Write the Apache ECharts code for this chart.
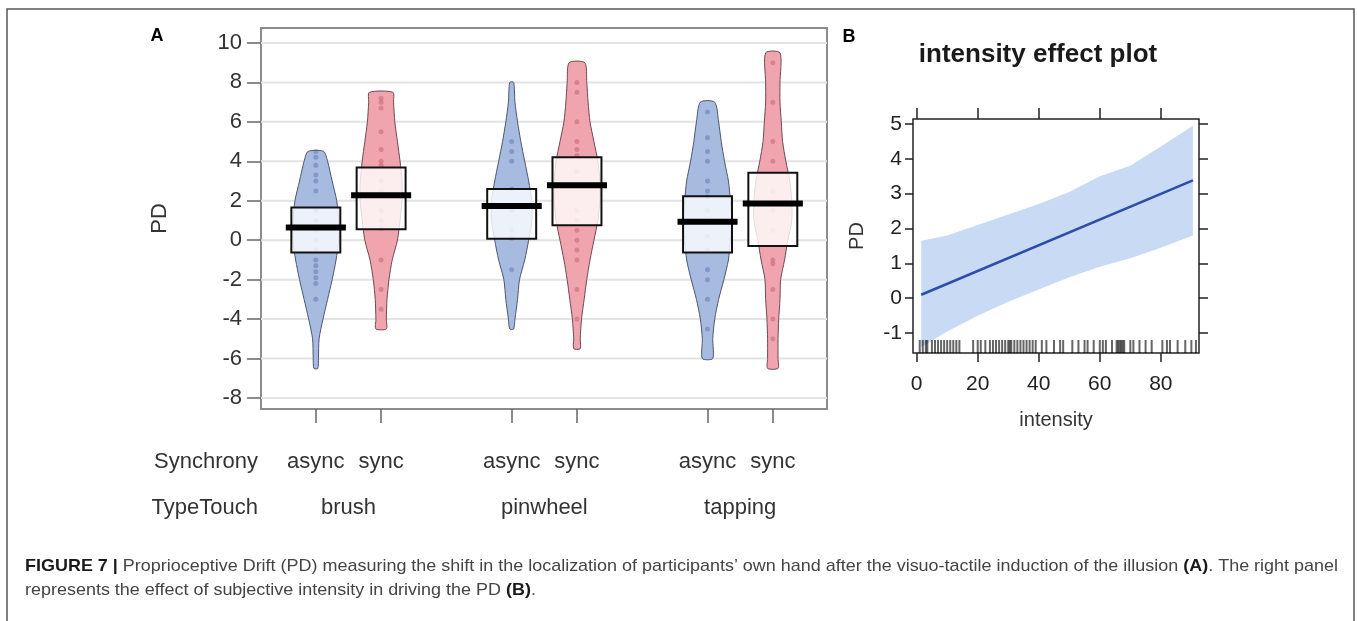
<!DOCTYPE html>
<html>
<head>
<meta charset="utf-8">
<script src="https://cdn.jsdelivr.net/npm/echarts@6/dist/echarts.min.js"></script>
<style>
  html, body { margin: 0; padding: 0; background: #fff; }
  #chart { width: 1357px; height: 621px; }
</style>
</head>
<body>
<div id="chart"></div>
<script>
// ---- panel A: pirate plot, PD by Synchrony x TypeTouch ----
const groupX = [1, 2, 4, 5, 7, 8];
const synchronyLabels = ['async', 'sync', 'async', 'sync', 'async', 'sync'];
const typeTouchLabels = ['brush', 'pinwheel', 'tapping'];
const typeTouchX = [1.5, 4.5, 7.5];
const pdTicksA = [-8, -6, -4, -2, 0, 2, 4, 6, 8, 10];

// box = inference band, bar = mean
const boxLow = [-0.62, 0.56, 0.07, 0.76, -0.62, -0.29];
const boxHigh = [1.66, 3.69, 2.59, 4.2, 2.23, 3.42];
const means = [0.64, 2.28, 1.73, 2.79, 0.93, 1.86];

// violin outline: PD levels (top -> bottom) and half width in x units
const violinLevels = [
  [4.5, 4, 3, 2, 1, 0, -1, -2, -3, -4, -5, -6, -6.5],
  [7.5, 7, 6, 5, 4, 3, 2, 1, 0, -1, -2, -3, -4, -4.5],
  [8, 7, 6, 5, 4, 3, 2, 1, 0, -1, -2, -3, -4, -4.5],
  [9, 8, 7, 6, 5, 4, 3, 2, 1, 0, -1, -2, -3, -4, -5, -5.5],
  [7, 6, 5, 4, 3, 2, 1, 0, -1, -2, -3, -4, -5, -6],
  [9.5, 8, 7, 6, 5, 4, 3, 2, 1, 0, -1, -2, -3, -4, -5, -6, -6.5]
];
const violinWidth = [
  [0.12, 0.18, 0.25, 0.32, 0.35, 0.35, 0.31, 0.25, 0.18, 0.11, 0.05, 0.04, 0.03],
  [0.18, 0.19, 0.21, 0.25, 0.29, 0.32, 0.32, 0.29, 0.25, 0.17, 0.12, 0.09, 0.08, 0.08],
  [0.03, 0.05, 0.09, 0.14, 0.2, 0.26, 0.31, 0.31, 0.26, 0.2, 0.12, 0.09, 0.05, 0.03],
  [0.12, 0.15, 0.17, 0.2, 0.26, 0.32, 0.35, 0.35, 0.32, 0.26, 0.2, 0.15, 0.11, 0.07, 0.05, 0.05],
  [0.11, 0.17, 0.21, 0.26, 0.32, 0.35, 0.37, 0.35, 0.32, 0.25, 0.17, 0.11, 0.08, 0.08],
  [0.11, 0.11, 0.11, 0.13, 0.15, 0.2, 0.26, 0.29, 0.29, 0.23, 0.18, 0.12, 0.11, 0.09, 0.08, 0.08, 0.08]
];

// raw observations (faint dots)
const rawPoints = [
  [4.5, 4.2, 3.8, 3.3, 3, 2.5, 1.5, 1, 0.5, 0, -0.5, -1, -1.3, -1.6, -1.9, -2.2, -3],
  [7.2, 7, 6.7, 5.5, 4.6, 4, 3.8, 3, 2.5, 1.5, 1, 0.6, -1, -2.5, -3.5],
  [5, 4.5, 4, 2.6, 1.5, 0.5, 0.1, -1.5],
  [8, 7.5, 6, 5, 4.6, 4.3, 3.5, 1.5, 1, 0.5, 0, -0.5, -1, -2.5, -4],
  [6.5, 5.2, 4.5, 4, 3, 2.5, 2.2, 1.5, 1, 0.2, -0.5, -1.5, -2, -3, -4.5],
  [9, 7, 5, 4, 2.5, 1.5, 0.5, -1, -1.2, -2.5, -4, -5]
];

// ---- panel B: intensity effect plot ----
const intensityTicks = [0, 20, 40, 60, 80];
const pdTicksB = [-1, 0, 1, 2, 3, 4, 5];
const fitX = [1.5, 90.5];
const fitY = [0.1, 3.38];
const bandX = [1.5, 10, 20, 30, 40, 50, 60, 70, 80, 90.5];
const bandUpper = [1.65, 1.8, 2.1, 2.4, 2.7, 3.05, 3.5, 3.8, 4.35, 4.95];
const bandLower = [-1.4, -0.95, -0.5, -0.1, 0.25, 0.6, 0.9, 1.15, 1.45, 1.8];
const rugIntensity = [
  1, 2, 3, 3.5, 5, 6, 7, 8, 9, 10, 11, 12, 13, 14,
  18.5, 20, 21, 22.5, 24, 25, 26, 27, 28, 29, 30, 30.5, 31, 32, 33, 34, 35, 36, 37, 38, 39,
  41, 42.5, 45, 47, 48, 51, 53, 55, 56, 58, 60, 61, 62, 64, 65.5, 66, 66.5, 67, 67.5, 68, 70, 71, 73, 75, 77,
  80.5, 82, 83, 85.5, 88, 90, 91.5
];

const FONT = '"Liberation Sans", Arial, sans-serif';
const BOX_HALF = 0.375;
const BAR_HALF = 0.46;
const A_MIN = -8.56, A_MAX = 10.76;
const B_XMIN = -1.2, B_XMAX = 92.5, B_YMIN = -1.57, B_YMAX = 5.14;

const chart = echarts.init(document.getElementById('chart'));

// horizontal reference lines of panel A
function renderGridLines(params, api) {
  const cs = params.coordSys;
  const y = api.coord([1, api.value(0)])[1];
  return {
    type: 'line',
    shape: { x1: cs.x, y1: y, x2: cs.x + cs.width, y2: y },
    style: { stroke: '#e3e3e3', lineWidth: 2 }
  };
}

function renderPirate(params, api) {
  const i = params.dataIndex;
  const cx = groupX[i];
  const sync = i % 2 === 1;
  const levels = violinLevels[i], hw = violinWidth[i];
  const right = levels.map((y, k) => api.coord([cx + hw[k], y]));
  const left = levels.map((y, k) => api.coord([cx - hw[k], y])).reverse();
  const children = [{
    type: 'polygon',
    shape: { points: right.concat(left), smooth: 0.25 },
    style: {
      fill: sync ? '#f0a4ae' : '#a7bbe0',
      stroke: sync ? '#6e4a52' : '#4d5670',
      lineWidth: 1
    }
  }];
  rawPoints[i].forEach(v => {
    const p = api.coord([cx, v]);
    children.push({
      type: 'circle',
      shape: { cx: p[0], cy: p[1], r: 2.5 },
      style: { fill: sync ? '#b04656' : '#3d5a9a', opacity: 0.35 }
    });
  });
  const tl = api.coord([cx - BOX_HALF, boxHigh[i]]);
  const br = api.coord([cx + BOX_HALF, boxLow[i]]);
  children.push({
    type: 'rect',
    shape: { x: tl[0], y: tl[1], width: br[0] - tl[0], height: br[1] - tl[1] },
    style: { fill: 'rgba(255,255,255,0.8)', stroke: '#111', lineWidth: 2 }
  });
  const m1 = api.coord([cx - BAR_HALF, means[i]]);
  const m2 = api.coord([cx + BAR_HALF, means[i]]);
  children.push({
    type: 'line',
    shape: { x1: m1[0], y1: m1[1], x2: m2[0], y2: m2[1] },
    style: { stroke: '#000', lineWidth: 6 }
  });
  return { type: 'group', children };
}

function renderBand(params, api) {
  const up = bandX.map((x, k) => api.coord([x, bandUpper[k]]));
  const lo = bandX.map((x, k) => api.coord([x, bandLower[k]])).reverse();
  return {
    type: 'polygon',
    shape: { points: up.concat(lo) },
    style: { fill: '#c9daf5' }
  };
}

function renderRug(params, api) {
  const p = api.coord([api.value(0), B_YMIN]);
  return {
    type: 'line',
    shape: { x1: p[0], y1: p[1], x2: p[0], y2: p[1] - 13 },
    style: { stroke: 'rgba(0,0,0,0.6)', lineWidth: 2 }
  };
}

// caption is a narrow font in the original: squeeze Liberation Sans to the same line length
const measureCtx = document.createElement('canvas').getContext('2d');
function textWidth(str, bold) {
  measureCtx.font = (bold ? 'bold ' : '') + '17px "Liberation Sans"';
  return measureCtx.measureText(str).width;
}
const cap1 = [['FIGURE 7 |', true], [' Proprioceptive Drift (PD) measuring the shift in the localization of participants\u2019 own hand after the visuo-tactile induction of the illusion ', false], ['(A)', true], ['. The right panel', false]];
const cap2 = [['represents the effect of subjective intensity in driving the PD ', false], ['(B)', true], ['.', false]];
const cap1Width = cap1.reduce((s, p) => s + textWidth(p[0], p[1]), 0);
const capScale = 1313 / cap1Width;
function richCaption(parts) {
  return parts.map(p => p[1] ? '{b|' + p[0] + '}' : '{r|' + p[0] + '}').join('');
}
const capRich = {
  b: { fontFamily: 'Liberation Sans', fontSize: 17, fontWeight: 'bold', fill: '#1a1a1a' },
  r: { fontFamily: 'Liberation Sans', fontSize: 17, fill: '#444' }
};

const noZeroLine = { show: false, onZero: false };

const option = {
  backgroundColor: '#fff',
  animation: false,
  textStyle: { fontFamily: FONT },
  grid: [
    { left: 261, top: 28, width: 566, height: 381, show: true, borderColor: '#8c8c8c', borderWidth: 2, backgroundColor: 'transparent' },
    { left: 913, top: 119, width: 286, height: 234, show: true, borderColor: '#222', borderWidth: 1.5, backgroundColor: 'transparent' }
  ],
  xAxis: [
    {
      gridIndex: 0, type: 'value', position: 'bottom', min: 0.16, max: 8.83,
      axisLine: noZeroLine, splitLine: { show: false },
      axisTick: { customValues: groupX, length: 14, lineStyle: { color: '#666', width: 1.5 } },
      axisLabel: {
        customValues: groupX, margin: 42, fontSize: 22, color: '#333',
        formatter: v => synchronyLabels[groupX.indexOf(v)]
      }
    },
    {
      gridIndex: 0, type: 'value', position: 'bottom', min: 0.16, max: 8.83,
      axisLine: noZeroLine, splitLine: { show: false }, axisTick: { show: false },
      axisLabel: {
        customValues: typeTouchX, margin: 88, fontSize: 22, color: '#333',
        formatter: v => typeTouchLabels[typeTouchX.indexOf(v)]
      }
    },
    {
      gridIndex: 1, type: 'value', position: 'bottom', min: B_XMIN, max: B_XMAX,
      axisLine: noZeroLine, splitLine: { show: false },
      axisTick: { customValues: intensityTicks, length: 9, lineStyle: { color: '#222', width: 1.5 } },
      axisLabel: { customValues: intensityTicks, margin: 21, fontSize: 21, color: '#222' },
      name: 'intensity', nameLocation: 'middle', nameGap: 57,
      nameTextStyle: { fontSize: 20, color: '#333' }
    },
    {
      gridIndex: 1, type: 'value', position: 'top', min: B_XMIN, max: B_XMAX,
      axisLine: noZeroLine, splitLine: { show: false }, axisLabel: { show: false },
      axisTick: { customValues: intensityTicks, length: 11, lineStyle: { color: '#222', width: 1.5 } }
    }
  ],
  yAxis: [
    {
      gridIndex: 0, type: 'value', min: A_MIN, max: A_MAX,
      axisLine: noZeroLine, splitLine: { show: false },
      axisTick: { customValues: pdTicksA, length: 14, lineStyle: { color: '#666', width: 1.5 } },
      axisLabel: { customValues: pdTicksA, margin: 19, fontSize: 22, color: '#333' },
      name: 'PD', nameLocation: 'middle', nameGap: 90, nameRotate: 90,
      nameTextStyle: { fontSize: 22, color: '#333' }
    },
    {
      gridIndex: 1, type: 'value', position: 'left', min: B_YMIN, max: B_YMAX,
      axisLine: noZeroLine, splitLine: { show: false },
      axisTick: { customValues: pdTicksB, length: 8, lineStyle: { color: '#222', width: 1.5 } },
      axisLabel: { customValues: pdTicksB, margin: 11, fontSize: 21, color: '#222' },
      name: 'PD', nameLocation: 'middle', nameGap: 46, nameRotate: 90,
      nameTextStyle: { fontSize: 20, color: '#333' }
    },
    {
      gridIndex: 1, type: 'value', position: 'right', min: B_YMIN, max: B_YMAX,
      axisLine: noZeroLine, splitLine: { show: false }, axisLabel: { show: false },
      axisTick: { customValues: pdTicksB, length: 9, lineStyle: { color: '#222', width: 1.5 } }
    }
  ],
  series: [
    {
      type: 'custom', xAxisIndex: 0, yAxisIndex: 0, z: 1, silent: true,
      data: pdTicksA.map(v => [v]), encode: { y: 0 },
      renderItem: renderGridLines
    },
    {
      type: 'custom', xAxisIndex: 0, yAxisIndex: 0, z: 2, silent: true, clip: true,
      data: groupX.map((x, i) => [x, means[i], boxLow[i], boxHigh[i]]),
      encode: { x: 0, y: [1, 2, 3] },
      renderItem: renderPirate
    },
    {
      type: 'custom', xAxisIndex: 2, yAxisIndex: 1, z: 1, silent: true, clip: true,
      data: [[bandX[0], bandUpper[0]]],
      renderItem: renderBand
    },
    {
      type: 'line', xAxisIndex: 2, yAxisIndex: 1, z: 3, silent: true,
      data: fitX.map((x, k) => [x, fitY[k]]), showSymbol: false, symbol: 'none',
      lineStyle: { color: '#2c4ea8', width: 2.5 }
    },
    {
      type: 'custom', xAxisIndex: 2, yAxisIndex: 1, z: 4, silent: true,
      data: rugIntensity.map(v => [v]), encode: { x: 0 },
      renderItem: renderRug
    }
  ],
  graphic: [
    { type: 'rect', shape: { x: 7, y: 9, width: 1347, height: 640 }, style: { fill: 'none', stroke: '#555', lineWidth: 1.5 }, silent: true },
    { type: 'text', x: 157, y: 36, style: { text: 'A', font: 'bold 18px "Liberation Sans"', fill: '#000', align: 'center', verticalAlign: 'middle' } },
    { type: 'text', x: 849, y: 37, style: { text: 'B', font: 'bold 18px "Liberation Sans"', fill: '#000', align: 'center', verticalAlign: 'middle' } },
    { type: 'text', x: 1038, y: 55, style: { text: 'intensity effect plot', font: 'bold 26px "Liberation Sans"', fill: '#1a1a1a', align: 'center', verticalAlign: 'middle' } },
    { type: 'text', x: 258, y: 462, style: { text: 'Synchrony', font: '22px "Liberation Sans"', fill: '#333', align: 'right', verticalAlign: 'middle' } },
    { type: 'text', x: 258, y: 508, style: { text: 'TypeTouch', font: '22px "Liberation Sans"', fill: '#333', align: 'right', verticalAlign: 'middle' } },
    { type: 'text', x: 25, y: 566, scaleX: capScale, style: { text: richCaption(cap1), rich: capRich, verticalAlign: 'middle' } },
    { type: 'text', x: 25, y: 590, scaleX: capScale, style: { text: richCaption(cap2), rich: capRich, verticalAlign: 'middle' } }
  ]
};

chart.setOption(option);
</script>
</body>
</html>
